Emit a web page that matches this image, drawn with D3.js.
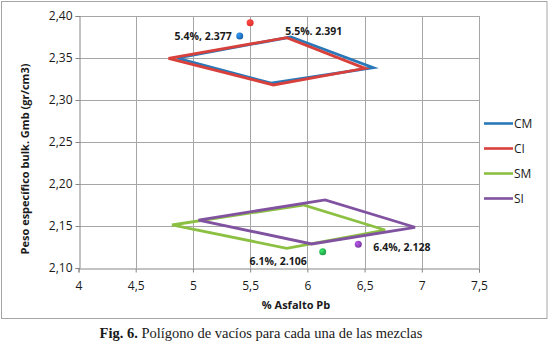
<!DOCTYPE html>
<html><head><meta charset="utf-8">
<script src="https://cdn.jsdelivr.net/npm/d3@7/dist/d3.min.js"></script>
<style>body{margin:0;background:#fff}svg{display:block}</style>
</head><body>
<script>
// ---- data ----
const seriesNames = ["CM", "CI", "SM", "SI"];
const seriesColors = ["#2a78b8", "#d8403c", "#8cc043", "#8052a0"];
const cmX = [4.86, 5.855, 6.576, 5.683, 4.86];
const cmY = [2.350, 2.375, 2.3385, 2.320, 2.350];
const ciX = [4.786, 5.82, 6.504, 5.703, 4.786];
const ciY = [2.3496, 2.3742, 2.3377, 2.3179, 2.3496];
const smX = [4.816, 5.965, 6.679, 5.82, 4.816];
const smY = [2.1512, 2.175, 2.1452, 2.1235, 2.1512];
const siX = [5.048, 6.155, 6.941, 6.038, 5.048];
const siY = [2.1571, 2.181, 2.1485, 2.1286, 2.1571];
const pointX = [5.409, 5.50, 6.134, 6.445];
const pointY = [2.3762, 2.392, 2.1194, 2.1282];
const pointLabels = ["5.4%, 2.377", "5.5%. 2.391", "6.1%, 2.106", "6.4%, 2.128"];
const pointColors = ["#1f64a8", "#e0302c", "#239a45", "#7a3a9e"];
const xTicks = [4, 4.5, 5, 5.5, 6, 6.5, 7, 7.5];
const yTicks = [2.10, 2.15, 2.20, 2.25, 2.30, 2.35, 2.40];

const W = 550, H = 352;
const svg = d3.select("body").append("svg").attr("width", W).attr("height", H);

// chart area border
svg.append("rect").attr("x", 1.5).attr("y", 1.5).attr("width", 545.5).attr("height", 317)
  .attr("fill", "#fff").attr("stroke", "#a6a6a6").attr("stroke-width", 1);

const x = d3.scaleLinear().domain([4, 7.5]).range([78.5, 479]);
const y = d3.scaleLinear().domain([2.10, 2.40]).range([268, 16]);
const fmt = d => d3.format(".2f")(d).replace(".", ",");
const fmtX = d => String(d).replace(".", ",");

// gridlines
const grid = svg.append("g").attr("stroke", "#a6a6a6").attr("stroke-width", 1);
grid.selectAll(".gy").data(yTicks.filter(d => d > 2.10)).enter().append("line")
  .attr("x1", x(4)).attr("x2", x(7.5))
  .attr("y1", d => Math.round(y(d)) + 0.5).attr("y2", d => Math.round(y(d)) + 0.5);
grid.selectAll(".gx").data(xTicks.filter(d => d > 4)).enter().append("line")
  .attr("y1", y(2.10)).attr("y2", y(2.40))
  .attr("x1", d => Math.round(x(d)) + 0.5).attr("x2", d => Math.round(x(d)) + 0.5);

// axes
const yAxis = svg.append("g").attr("transform", `translate(${Math.round(x(4)) + 0.5},0)`)
  .call(d3.axisLeft(y).tickValues(yTicks).tickSize(4).tickPadding(3).tickFormat(fmt));
const xAxis = svg.append("g").attr("transform", `translate(0,${Math.round(y(2.10)) + 0.5})`)
  .call(d3.axisBottom(x).tickValues(xTicks).tickSize(4).tickPadding(9).tickFormat(fmtX));
[yAxis, xAxis].forEach(a => {
  a.select(".domain").attr("stroke", "#868686");
  a.selectAll(".tick line").attr("stroke", "#868686");
  a.selectAll(".tick text").attr("fill", "#1a1a1a")
    .style("font-family", "'Open Sans', sans-serif").style("font-size", "12px");
});

// polygons
const line = d3.line().x(d => x(d[0])).y(d => y(d[1]));
const polys = [[cmX, cmY], [ciX, ciY], [smX, smY], [siX, siY]];
polys.forEach((p, i) => {
  const pts = p[0].map((v, j) => [v, p[1][j]]);
  svg.append("path").attr("d", line(pts)).attr("fill", "none")
    .attr("stroke", seriesColors[i]).attr("stroke-width", 2.8).attr("stroke-linejoin", "miter");
});

// points with gradients
const defs = svg.append("defs");
pointColors.forEach((c, i) => {
  const g = defs.append("radialGradient").attr("id", "g" + i).attr("cx", "35%").attr("cy", "35%").attr("r", "65%");
  g.append("stop").attr("offset", "0%").attr("stop-color", d3.color(c).brighter(1.2));
  g.append("stop").attr("offset", "100%").attr("stop-color", c);
});
svg.selectAll(".pt").data(pointX).enter().append("circle")
  .attr("cx", d => x(d)).attr("cy", (d, i) => y(pointY[i])).attr("r", 3.5)
  .attr("fill", (d, i) => `url(#g${i})`);

// data labels
const lblOff = [[-8, 0, "end"], [35, 8.5, "start"], [-16, 10, "end"], [15, 3, "start"]];
svg.selectAll(".lbl").data(pointLabels).enter().append("text")
  .attr("x", (d, i) => x(pointX[i]) + lblOff[i][0])
  .attr("y", (d, i) => y(pointY[i]) + lblOff[i][1])
  .attr("dy", "0.35em").attr("text-anchor", (d, i) => lblOff[i][2])
  .style("font-family", "'Open Sans', sans-serif").style("font-size", "10.5px").style("font-weight", "bold")
  .attr("fill", "#1a1a1a").text(d => d);

// axis titles
svg.append("text").attr("transform", "translate(29,159) rotate(-90)").attr("text-anchor", "middle")
  .style("font-family", "'Open Sans', sans-serif").style("font-size", "11px").style("font-weight", "bold")
  .attr("fill", "#1a1a1a").text("Peso específico bulk. Gmb (gr/cm3)");
svg.append("text").attr("x", 296).attr("y", 309).attr("text-anchor", "middle")
  .style("font-family", "'Open Sans', sans-serif").style("font-size", "11px").style("font-weight", "bold")
  .attr("fill", "#1a1a1a").text("% Asfalto Pb");

// legend
const leg = svg.append("g");
seriesNames.forEach((n, i) => {
  const yy = 123.5 + i * 25;
  leg.append("line").attr("x1", 484).attr("x2", 513).attr("y1", yy).attr("y2", yy)
    .attr("stroke", seriesColors[i]).attr("stroke-width", 2.6);
  leg.append("text").attr("x", 514).attr("y", yy).attr("dy", "0.35em")
    .style("font-family", "'Open Sans', sans-serif").style("font-size", "12px")
    .attr("fill", "#1a1a1a").text(n);
});

// caption
const cap = svg.append("text").attr("x", 261).attr("y", 338).attr("text-anchor", "middle")
  .style("font-family", "'Liberation Serif', serif").style("font-size", "14.5px").attr("fill", "#1a1a1a");
cap.append("tspan").style("font-weight", "bold").text("Fig. 6.");
cap.append("tspan").text(" Polígono de vacíos para cada una de las mezclas");
</script>
</body></html>
